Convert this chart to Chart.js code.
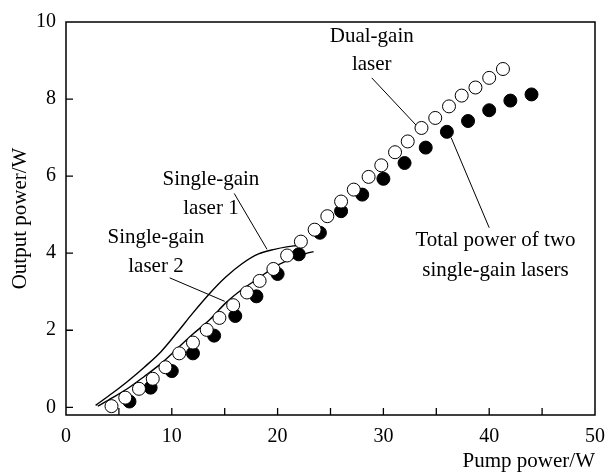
<!DOCTYPE html>
<html>
<head>
<meta charset="utf-8">
<script src="https://cdn.jsdelivr.net/npm/chart.js@4/dist/chart.umd.min.js"></script>
<style>
  html, body { margin: 0; padding: 0; background: #fff; }
  #wrap { width: 615px; height: 474px; }
</style>
</head>
<body>
<div id="wrap"><canvas id="c"></canvas></div>
<script>
// dual-gain laser (open circles)
const dualX = [4.3, 5.6, 6.9, 8.2, 9.4, 10.7, 12.0, 13.3, 14.5, 15.8, 17.1, 18.3, 19.6, 20.9, 22.2,
  23.5, 24.7, 26.0, 27.2, 28.6, 29.8, 31.1, 32.3, 33.6, 34.9, 36.2, 37.4, 38.7, 40.0, 41.3];
const dualY = [0.03, 0.25, 0.48, 0.74, 1.04, 1.40, 1.68, 2.01, 2.32, 2.65, 2.98, 3.28, 3.59, 3.94, 4.30,
  4.61, 4.96, 5.34, 5.65, 5.98, 6.28, 6.62, 6.90, 7.25, 7.51, 7.81, 8.09, 8.30, 8.55, 8.78];

// total power of two single-gain lasers (filled circles)
const totalX = [6, 8, 10, 12, 14, 16, 18, 20, 22, 24, 26, 28, 30, 32, 34, 36, 38, 40, 42, 44];
const totalY = [0.15, 0.51, 0.94, 1.40, 1.86, 2.37, 2.88, 3.46, 3.97, 4.53, 5.09, 5.52, 5.93, 6.34,
  6.74, 7.15, 7.43, 7.71, 7.96, 8.12];

// single-gain laser 1 (upper curve)
const sg1X = [2.8, 4.4, 5.9, 7.4, 9.0, 10.5, 12.0, 13.6, 15.1, 16.6, 18.2, 19.7, 21.0, 21.8];
const sg1Y = [0.05, 0.37, 0.69, 1.04, 1.45, 1.94, 2.45, 2.96, 3.38, 3.72, 3.98, 4.10, 4.17, 4.20];

// single-gain laser 2 (lower curve)
const sg2X = [3.0, 4.4, 5.9, 7.4, 9.0, 10.5, 12.0, 13.6, 15.1, 16.6, 18.2, 19.7, 21.3, 22.8, 23.4];
const sg2Y = [0.03, 0.25, 0.50, 0.80, 1.14, 1.52, 1.90, 2.28, 2.71, 3.05, 3.35, 3.64, 3.85, 4.00, 4.04];

const xTicks = [0, 10, 20, 30, 40, 50];
const yTicks = [0, 2, 4, 6, 8, 10];

function pts(xs, ys) { return xs.map((x, i) => ({ x: x, y: ys[i] })); }

const FONT = '"Liberation Serif", "Times New Roman", serif';

// annotation labels and leader lines, in data coordinates
const labels = [
  { x: 28.9, y: 9.62, t: 'Dual-gain' }, { x: 28.9, y: 8.91, t: 'laser' },
  { x: 13.7, y: 5.90, t: 'Single-gain' }, { x: 13.7, y: 5.17, t: 'laser 1' },
  { x: 8.5, y: 4.40, t: 'Single-gain' }, { x: 8.5, y: 3.66, t: 'laser 2' },
  { x: 40.6, y: 4.33, t: 'Total power of two' }, { x: 40.6, y: 3.56, t: 'single-gain lasers' }
];
const leaders = [
  [28.9, 8.55, 33.1, 7.32],
  [15.9, 5.55, 19.0, 4.10],
  [9.8, 3.36, 15.0, 2.75],
  [36.4, 7.00, 40.0, 4.66]
];

const decor = {
  id: 'decor',
  afterDatasetsDraw(chart) {
    const ctx = chart.ctx, a = chart.chartArea;
    const xs = chart.scales.x, ys = chart.scales.y;
    ctx.save();
    ctx.strokeStyle = '#000';
    ctx.lineWidth = 1.5;
    ctx.strokeRect(a.left, a.top, a.right - a.left, a.bottom - a.top);
    // inward tick marks
    ctx.lineWidth = 1.3;
    ctx.beginPath();
    for (let v = 5; v < 50; v += 5) {
      const px = xs.getPixelForValue(v);
      ctx.moveTo(px, a.bottom); ctx.lineTo(px, a.bottom - 7);
    }
    yTicks.forEach(v => {
      if (v >= 10) return;
      const py = ys.getPixelForValue(v);
      ctx.moveTo(a.left, py); ctx.lineTo(a.left + 7, py);
    });
    ctx.stroke();
    // leader lines
    ctx.lineWidth = 1;
    ctx.beginPath();
    leaders.forEach(l => {
      ctx.moveTo(xs.getPixelForValue(l[0]), ys.getPixelForValue(l[1]));
      ctx.lineTo(xs.getPixelForValue(l[2]), ys.getPixelForValue(l[3]));
    });
    ctx.stroke();
    ctx.fillStyle = '#000';
    ctx.font = '21px ' + FONT;
    ctx.textAlign = 'center';
    ctx.textBaseline = 'middle';
    labels.forEach(l => ctx.fillText(l.t, xs.getPixelForValue(l.x), ys.getPixelForValue(l.y)));
    ctx.restore();
  }
};

new Chart(document.getElementById('c'), {
  type: 'scatter',
  data: {
    datasets: [
      {
        label: 'Dual-gain laser',
        data: pts(dualX, dualY),
        pointStyle: 'circle',
        pointRadius: 6.5,
        pointBackgroundColor: '#fff',
        pointBorderColor: '#000',
        pointBorderWidth: 1,
        showLine: false,
        order: 0
      },
      {
        label: 'Total power of two single-gain lasers',
        data: pts(totalX, totalY),
        pointRadius: 6.5,
        pointBackgroundColor: '#000',
        pointBorderColor: '#000',
        pointBorderWidth: 1,
        showLine: false,
        order: 1
      },
      {
        label: 'Single-gain laser 1',
        data: pts(sg1X, sg1Y),
        showLine: true,
        borderColor: '#000',
        borderWidth: 1.4,
        pointRadius: 0,
        cubicInterpolationMode: 'monotone',
        order: 2
      },
      {
        label: 'Single-gain laser 2',
        data: pts(sg2X, sg2Y),
        showLine: true,
        borderColor: '#000',
        borderWidth: 1.4,
        pointRadius: 0,
        cubicInterpolationMode: 'monotone',
        order: 2
      }
    ]
  },
  options: {
    responsive: true,
    maintainAspectRatio: false,
    animation: false,
    layout: { padding: { top: 15, right: 9, left: 0, bottom: 0 } },
    plugins: {
      legend: { display: false },
      tooltip: { enabled: false }
    },
    scales: {
      x: {
        type: 'linear',
        min: 0,
        max: 50,
        afterBuildTicks: s => { s.ticks = xTicks.map(v => ({ value: v })); },
        afterFit: s => { s.height = 59; },
        grid: { display: false, drawTicks: false },
        border: { display: false },
        ticks: { color: '#000', padding: 10, font: { family: FONT, size: 20 } },
        title: {
          display: true,
          text: 'Pump power/W',
          align: 'end',
          color: '#000',
          padding: { top: 0, bottom: 0 },
          font: { family: FONT, size: 21 }
        }
      },
      y: {
        type: 'linear',
        min: -0.2,
        max: 10,
        afterBuildTicks: s => { s.ticks = yTicks.map(v => ({ value: v })); },
        afterFit: s => { s.width = 66; },
        grid: { display: false, drawTicks: false },
        border: { display: false },
        ticks: { color: '#000', padding: 10, font: { family: FONT, size: 20 } },
        title: {
          display: true,
          text: 'Output power/W',
          color: '#000',
          padding: { top: 8, bottom: 2 },
          font: { family: FONT, size: 21 }
        }
      }
    }
  },
  plugins: [decor]
});
</script>
</body>
</html>
